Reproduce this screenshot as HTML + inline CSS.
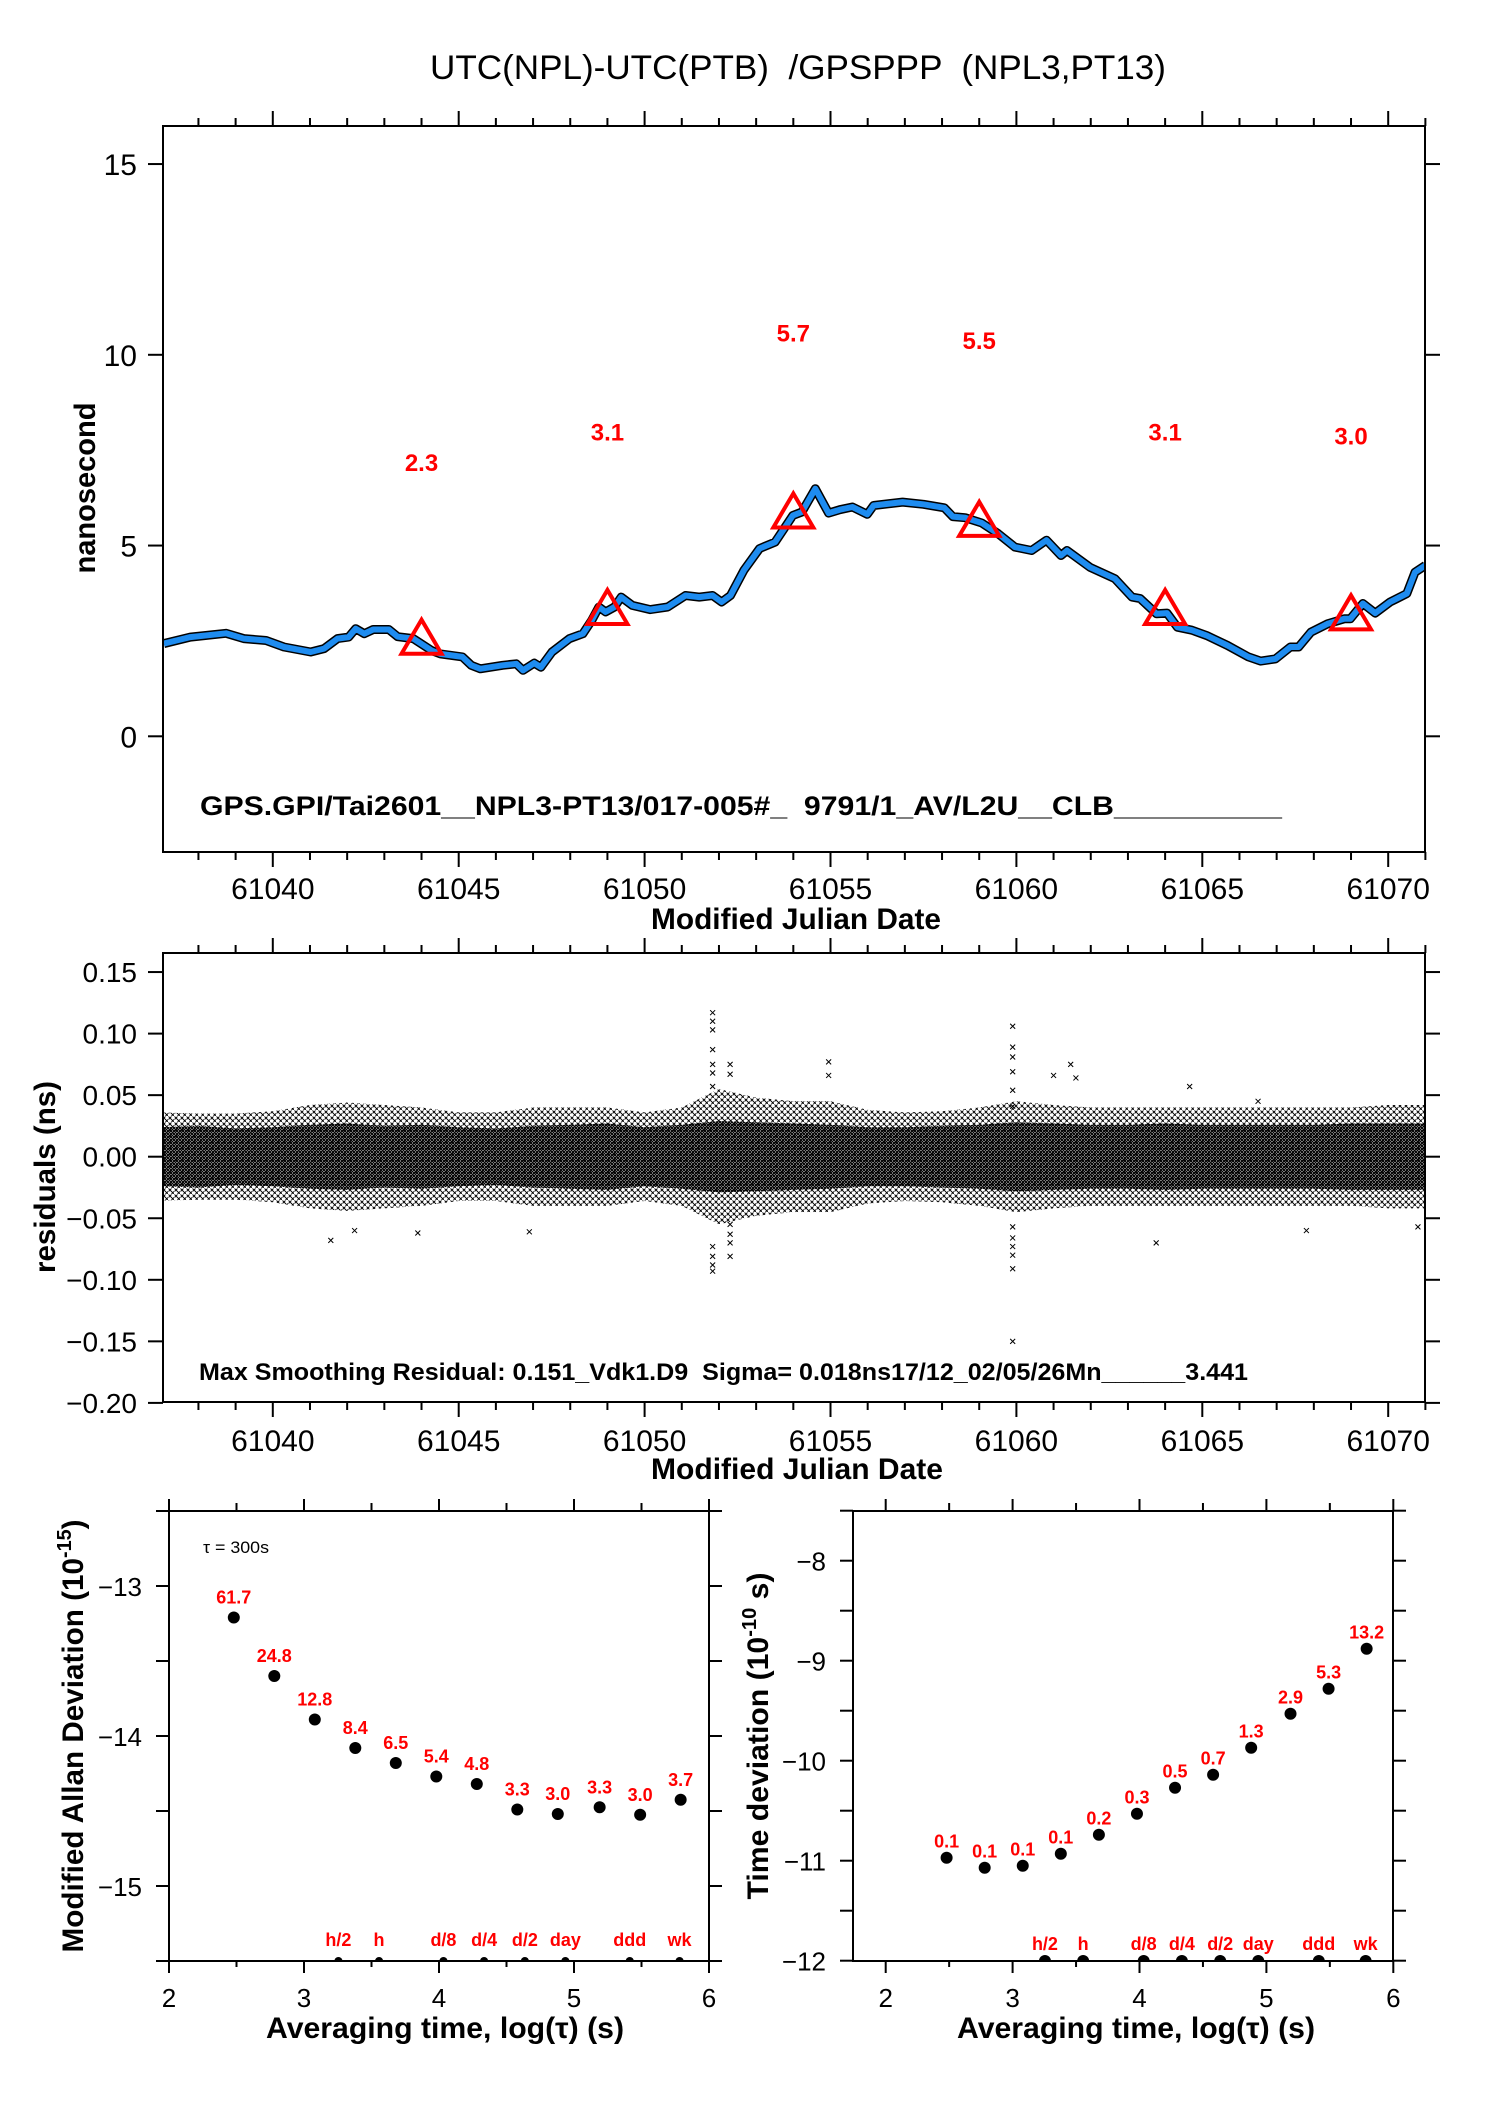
<!DOCTYPE html>
<html><head><meta charset="utf-8"><style>
html,body{margin:0;padding:0;background:#fff;}
svg{display:block;font-family:"Liberation Sans",Arial,sans-serif;}
</style></head><body>
<svg id="chart" xmlns="http://www.w3.org/2000/svg" width="1488" height="2105" viewBox="0 0 1488 2105">
<defs>
<pattern id="pDense" width="3" height="3" patternUnits="userSpaceOnUse"><path d="M0 0L3 3M3 0L0 3" stroke="#000" stroke-width="1.1"/></pattern>
<pattern id="pSparse" width="6" height="6" patternUnits="userSpaceOnUse"><path d="M0.5 0.5L3.5 3.5M3.5 0.5L0.5 3.5M3.5 3.5L6 6M6 3.5L3.5 6" stroke="#000" stroke-width="0.9"/></pattern>
<clipPath id="clipTop"><rect x="163" y="126" width="1262" height="726"/></clipPath>
<clipPath id="clipMid"><rect x="163" y="953" width="1262" height="449"/></clipPath>
<clipPath id="clipBL"><rect x="169" y="1511" width="540" height="450"/></clipPath>
<clipPath id="clipBR"><rect x="853" y="1511" width="540" height="450"/></clipPath>
</defs>
<text xml:space="preserve" x="430" y="79" font-size="34" textLength="736" lengthAdjust="spacingAndGlyphs">UTC(NPL)-UTC(PTB)  /GPSPPP  (NPL3,PT13)</text>
<g id="gTop"></g>
<g id="gMid"></g>
<g id="gBL"></g>
<g id="gBR"></g>
<text transform="translate(95,488) rotate(-90)" text-anchor="middle" font-size="30" font-weight="bold" textLength="171" lengthAdjust="spacingAndGlyphs">nanosecond</text>
<text x="651" y="929" font-size="30" font-weight="bold" textLength="290" lengthAdjust="spacingAndGlyphs">Modified Julian Date</text>
<text xml:space="preserve" x="200" y="815" font-size="27" font-weight="bold" textLength="1082" lengthAdjust="spacingAndGlyphs">GPS.GPI/Tai2601__NPL3-PT13/017-005#_  9791/1_AV/L2U__CLB__________</text>
<text transform="translate(55,1177) rotate(-90)" text-anchor="middle" font-size="30" font-weight="bold" textLength="192" lengthAdjust="spacingAndGlyphs">residuals (ns)</text>
<text x="651" y="1479" font-size="30" font-weight="bold" textLength="292" lengthAdjust="spacingAndGlyphs">Modified Julian Date</text>
<text xml:space="preserve" x="199" y="1380" font-size="24" font-weight="bold" textLength="1049" lengthAdjust="spacingAndGlyphs">Max Smoothing Residual: 0.151_Vdk1.D9  Sigma= 0.018ns17/12_02/05/26Mn______3.441</text>
<text transform="translate(83,1736) rotate(-90)" text-anchor="middle" font-size="30" font-weight="bold" textLength="433" lengthAdjust="spacingAndGlyphs">Modified Allan Deviation (10<tspan font-size="20" dy="-12">-15</tspan><tspan dy="12">)</tspan></text>
<text transform="translate(768,1736) rotate(-90)" text-anchor="middle" font-size="30" font-weight="bold" textLength="327" lengthAdjust="spacingAndGlyphs">Time deviation (10<tspan font-size="20" dy="-12">-10</tspan><tspan dy="12"> s)</tspan></text>
<text x="266" y="2038" font-size="30" font-weight="bold" textLength="358" lengthAdjust="spacingAndGlyphs">Averaging time, log(τ) (s)</text>
<text x="957" y="2038" font-size="30" font-weight="bold" textLength="358" lengthAdjust="spacingAndGlyphs">Averaging time, log(τ) (s)</text>
<text x="203" y="1553" font-size="17" textLength="66" lengthAdjust="spacingAndGlyphs">τ = 300s</text>
</svg>
<script>
// ---- top panel data ----
const topMjd = [61037.07,61037.78,61038.74,61039.22,61039.82,61040.30,61041.02,61041.38,61041.74,61042.04,61042.23,61042.46,61042.70,61043.12,61043.36,61043.78,61044.27,61044.51,61045.10,61045.34,61045.58,61046.18,61046.55,61046.73,61047.03,61047.21,61047.51,61047.98,61048.34,61048.58,61048.77,61048.95,61049.19,61049.37,61049.67,61050.15,61050.62,61051.10,61051.47,61051.83,61052.07,61052.31,61052.67,61053.09,61053.51,61053.75,61053.99,61054.23,61054.59,61054.95,61055.25,61055.59,61055.99,61056.16,61056.94,61057.50,61058.06,61058.29,61058.62,61059.07,61059.51,61059.96,61060.41,61060.81,61061.20,61061.36,61061.98,61062.65,61063.11,61063.33,61063.77,61064.05,61064.33,61064.72,61065.12,61065.68,61066.24,61066.57,61066.97,61067.37,61067.59,61067.92,61068.37,61068.82,61068.98,61069.32,61069.65,61070.05,61070.50,61070.72,61071.00];
const topNs = [2.43,2.60,2.70,2.56,2.51,2.34,2.21,2.30,2.56,2.60,2.82,2.69,2.80,2.80,2.61,2.56,2.25,2.16,2.08,1.86,1.77,1.86,1.90,1.73,1.92,1.81,2.21,2.56,2.69,3.04,3.39,3.26,3.39,3.65,3.43,3.32,3.39,3.69,3.65,3.69,3.52,3.69,4.35,4.92,5.09,5.44,5.79,5.88,6.49,5.85,5.94,6.01,5.82,6.05,6.14,6.08,5.99,5.76,5.73,5.59,5.31,4.96,4.87,5.14,4.74,4.87,4.43,4.13,3.65,3.61,3.21,3.23,2.86,2.78,2.64,2.38,2.08,1.97,2.03,2.34,2.34,2.73,2.95,3.08,3.08,3.48,3.23,3.52,3.74,4.30,4.48];
const triMjd = [61044,61049,61054,61059,61064,61069];
const triNs = [2.61,3.39,5.92,5.70,3.39,3.25];
const triLabels = ["2.3","3.1","5.7","5.5","3.1","3.0"];
const topYTicks = [0,5,10,15];
const mjdTicks = [61040,61045,61050,61055,61060,61065,61070];
// ---- residual panel data ----
const bandDays = [61037,61038,61039,61040,61041,61042,61043,61044,61045,61046,61047,61048,61049,61050,61051,61052,61053,61054,61055,61056,61057,61058,61059,61060,61061,61062,61063,61064,61065,61066,61067,61068,61069,61070,61071];
const bandInner = [0.024,0.025,0.023,0.024,0.026,0.027,0.025,0.026,0.024,0.023,0.025,0.026,0.027,0.024,0.026,0.029,0.028,0.027,0.026,0.024,0.024,0.025,0.026,0.028,0.027,0.026,0.026,0.027,0.026,0.026,0.026,0.026,0.027,0.027,0.027];
const bandOuter = [0.036,0.035,0.035,0.037,0.042,0.044,0.042,0.040,0.036,0.036,0.040,0.040,0.040,0.036,0.040,0.055,0.048,0.045,0.045,0.038,0.036,0.037,0.040,0.045,0.042,0.040,0.040,0.040,0.040,0.040,0.040,0.040,0.040,0.042,0.042];
const outMjd = [61051.83,61051.83,61051.83,61051.83,61051.83,61051.83,61051.83,61051.83,61051.83,61051.83,61051.83,61052.3,61052.3,61052.3,61052.3,61052.3,61052.3,61059.9,61059.9,61059.9,61059.9,61059.9,61059.9,61059.9,61059.9,61059.9,61059.9,61059.9,61059.9,61041.56,61042.2,61043.9,61046.9,61054.95,61054.95,61061.0,61061.46,61061.6,61064.66,61063.76,61067.8,61070.8,61066.5];
const outNs = [0.117,0.110,0.103,0.087,0.075,0.068,0.057,-0.073,-0.081,-0.088,-0.093,0.075,0.067,-0.055,-0.063,-0.070,-0.081,0.106,0.089,0.081,0.069,0.054,0.041,-0.057,-0.066,-0.073,-0.080,-0.091,-0.150,-0.068,-0.060,-0.062,-0.061,0.077,0.066,0.066,0.075,0.064,0.057,-0.070,-0.060,-0.057,0.045];
const midYTicks = [0.15,0.10,0.05,0.00,-0.05,-0.10,-0.15,-0.20];
const midYLabels = ["0.15","0.10","0.05","0.00","\u22120.05","\u22120.10","\u22120.15","\u22120.20"];
// ---- MDEV / TDEV data ----
const logTau = [2.48,2.78,3.08,3.38,3.68,3.98,4.28,4.58,4.88,5.19,5.49,5.79];
const mdevVals = [-13.21,-13.60,-13.89,-14.08,-14.18,-14.27,-14.32,-14.49,-14.52,-14.475,-14.525,-14.425];
const mdevLabels = ["61.7","24.8","12.8","8.4","6.5","5.4","4.8","3.3","3.0","3.3","3.0","3.7"];
const tdevVals = [-10.97,-11.07,-11.05,-10.93,-10.74,-10.53,-10.27,-10.14,-9.87,-9.53,-9.28,-8.88];
const tdevLabels = ["0.1","0.1","0.1","0.1","0.2","0.3","0.5","0.7","1.3","2.9","5.3","13.2"];
const markLog = [3.255,3.556,4.033,4.334,4.636,4.936,5.413,5.782];
const markNames = ["h/2","h","d/8","d/4","d/2","day","ddd","wk"];
const mdevYTicks = [-13,-14,-15];
const tdevYTicks = [-8,-9,-10,-11,-12];
const logTicks = [2,3,4,5,6];

const NS = "http://www.w3.org/2000/svg";
function mk(parent, tag, attrs, txt){
  const e = document.createElementNS(NS, tag);
  for (const k in attrs) e.setAttribute(k, attrs[k]);
  if (txt !== undefined) e.textContent = txt;
  parent.appendChild(e);
  return e;
}
const xM = m => 272.8 + (m - 61040) * 37.18;
const yTop = v => 736.3 - v * 38.15;
const yMid = v => 1156.7 - v * 1231;
const xBL = l => 169 + (l - 2) * 135;
const yBL = v => 1586 - (v + 13) * 150;
const xBR = l => 885.7 + (l - 2) * 126.9;
const yBR = v => 1560.7 - (v + 8) * 100;

function frame(g, L, T, R, B, name){
  const r = mk(g, "rect", {x:L, y:T, width:R-L, height:B-T, fill:"none", stroke:"#000", "stroke-width":2});
  
  
}
function tick(g, x1, y1, x2, y2, name){
  const t = mk(g, "line", {x1:x1, y1:y1, x2:x2, y2:y2, stroke:"#000", "stroke-width":2});
  
  
}
function label(g, x, y, s, size, anchor, name, extra){
  const a = {x:x, y:y, "font-size":size, "text-anchor":anchor};
  if (extra) for (const k in extra) a[k] = extra[k];
  const t = mk(g, "text", a, s);
  
  
  return t;
}

function mjdAxis(g, T, B, labelY){
  for (let d = 61037; d <= 61071; d++){
    const x = xM(d);
    if (x < 162 || x > 1426) continue;
    const major = (d % 5 === 0);
    const len = major ? 15 : 8;
    tick(g, x, T, x, T - len, 'x-tick-top');
    tick(g, x, B, x, B + len, 'x-tick-bottom');
  }
  mjdTicks.forEach(m => {
    label(g, xM(m), labelY, String(m), 30, "middle", 'x-tick-label');
  });
}

// ---- top panel ----
(function(){
  const g = document.getElementById("gTop");
  const L=163,T=126,R=1425,B=852;
  const pts = topMjd.map((m,i)=>xM(m).toFixed(1)+","+yTop(topNs[i]).toFixed(1)).join(" ");
  const cg = mk(g, "g", {"clip-path":"url(#clipTop)"});
  const l1 = mk(cg, "polyline", {points:pts, fill:"none", stroke:"#000", "stroke-width":9, "stroke-linejoin":"round"});
  
  
  const l2 = mk(cg, "polyline", {points:pts, fill:"none", stroke:"#1e8cf0", "stroke-width":6, "stroke-linejoin":"round"});
  
  
  triMjd.forEach((m,i)=>{
    const x = xM(m), y = yTop(triNs[i]);
    const p = mk(g, "polygon", {points:`${x},${y-17} ${x-20},${y+17} ${x+20},${y+17}`, fill:"none", stroke:"#f00", "stroke-width":4});
    
    
    label(g, x, yTop(parseFloat(triLabels[i]) + 4.65), triLabels[i], 24, "middle", 'marker-value-label', {fill:"#f00", "font-weight":"bold"});
  });
  frame(g, L, T, R, B, 'top-plot-frame');
  mjdAxis(g, T, B, 899);
  topYTicks.forEach(v=>{
    const y = yTop(v);
    tick(g, L, y, L-15, y, 'y-tick-left');
    tick(g, R, y, R+15, y, 'y-tick-right');
    label(g, 137, y+11, String(v), 30, "end", 'y-tick-label');
  });
})();

// ---- residuals panel ----
(function(){
  const g = document.getElementById("gMid");
  const L=163,T=953,R=1425,B=1402;
  const cg = mk(g, "g", {"clip-path":"url(#clipMid)"});
  function band(arr, fill, name){
    const up = bandDays.map((d,i)=>xM(d).toFixed(1)+","+yMid(arr[i]).toFixed(1));
    const dn = bandDays.map((d,i)=>xM(d).toFixed(1)+","+yMid(-arr[i]).toFixed(1)).reverse();
    const p = mk(cg, "polygon", {points:up.concat(dn).join(" "), fill:fill});
    
    
  }
  band(bandOuter, "url(#pSparse)", 'residual-scatter-outer');
  band(bandInner, "url(#pDense)", 'residual-scatter-core');
  outMjd.forEach((m,i)=>{
    const x = xM(m), y = yMid(outNs[i]);
    const p = mk(cg, "path", {d:`M${x-2.5} ${y-2.5}L${x+2.5} ${y+2.5}M${x+2.5} ${y-2.5}L${x-2.5} ${y+2.5}`, stroke:"#000", "stroke-width":1});
    
    
  });
  frame(g, L, T, R, B, 'mid-plot-frame');
  mjdAxis(g, T, B, 1451);
  midYTicks.forEach((v,i)=>{
    const y = yMid(v);
    tick(g, L, y, L-15, y, 'y-tick-left');
    tick(g, R, y, R+15, y, 'y-tick-right');
    label(g, 137, y+10, midYLabels[i], 28, "end", 'y-tick-label');
  });
})();

// ---- stability panels ----
function stabPanel(gid, L, R, xf, yf, vals, labs, yTicks, yMin, yMax, labOff, dotR, markR, markBase, clip, prefix){
  const g = document.getElementById(gid);
  const T=1511, B=1961;
  frame(g, L, T, R, B, prefix + '-frame');
  for (let l = 2; l <= 6.001; l += 0.5){
    const x = xf(l), major = Math.abs(l - Math.round(l)) < 0.01;
    tick(g, x, B, x, B + (major?12:6), 'x-tick-bottom');
    tick(g, x, T, x, T - (major?12:8), 'x-tick-top');
  }
  logTicks.forEach(l => label(g, xf(l), 2007, String(l), 26, "middle", 'x-tick-label'));
  for (let v = yMin; v <= yMax + 0.001; v += 0.5){
    const y = yf(v);
    tick(g, L, y, L-13, y, 'y-tick-left');
    tick(g, R, y, R+13, y, 'y-tick-right');
  }
  yTicks.forEach(v => label(g, L-27, yf(v)+10, "\u2212" + Math.abs(v), 26, "end", 'y-tick-label'));
  logTau.forEach((l,i)=>{
    const c = mk(g, "circle", {cx:xf(l), cy:yf(vals[i]), r:dotR, fill:"#000"});
    
    
    label(g, xf(l), yf(vals[i]) - labOff, labs[i], 18, "middle", prefix + '-value-label', {fill:"#f00", "font-weight":"bold"});
  });
  const cg = mk(g, "g", {"clip-path":clip});
  markLog.forEach((l,i)=>{
    const c = mk(cg, "circle", {cx:xf(l), cy:B, r:markR, fill:"#000"});
    
    
    label(g, xf(l), markBase, markNames[i], 18, "middle", 'interval-label', {fill:"#f00", "font-weight":"bold"});
  });
}
stabPanel("gBL", 169, 709, xBL, yBL, mdevVals, mdevLabels, mdevYTicks, -15.5, -12.5, 14, 6, 4, 1946, "url(#clipBL)", 'mdev');
stabPanel("gBR", 853, 1393, xBR, yBR, tdevVals, tdevLabels, tdevYTicks, -12, -7.5, 10, 6, 6, 1950, "url(#clipBR)", 'tdev');
</script>
</body></html>
